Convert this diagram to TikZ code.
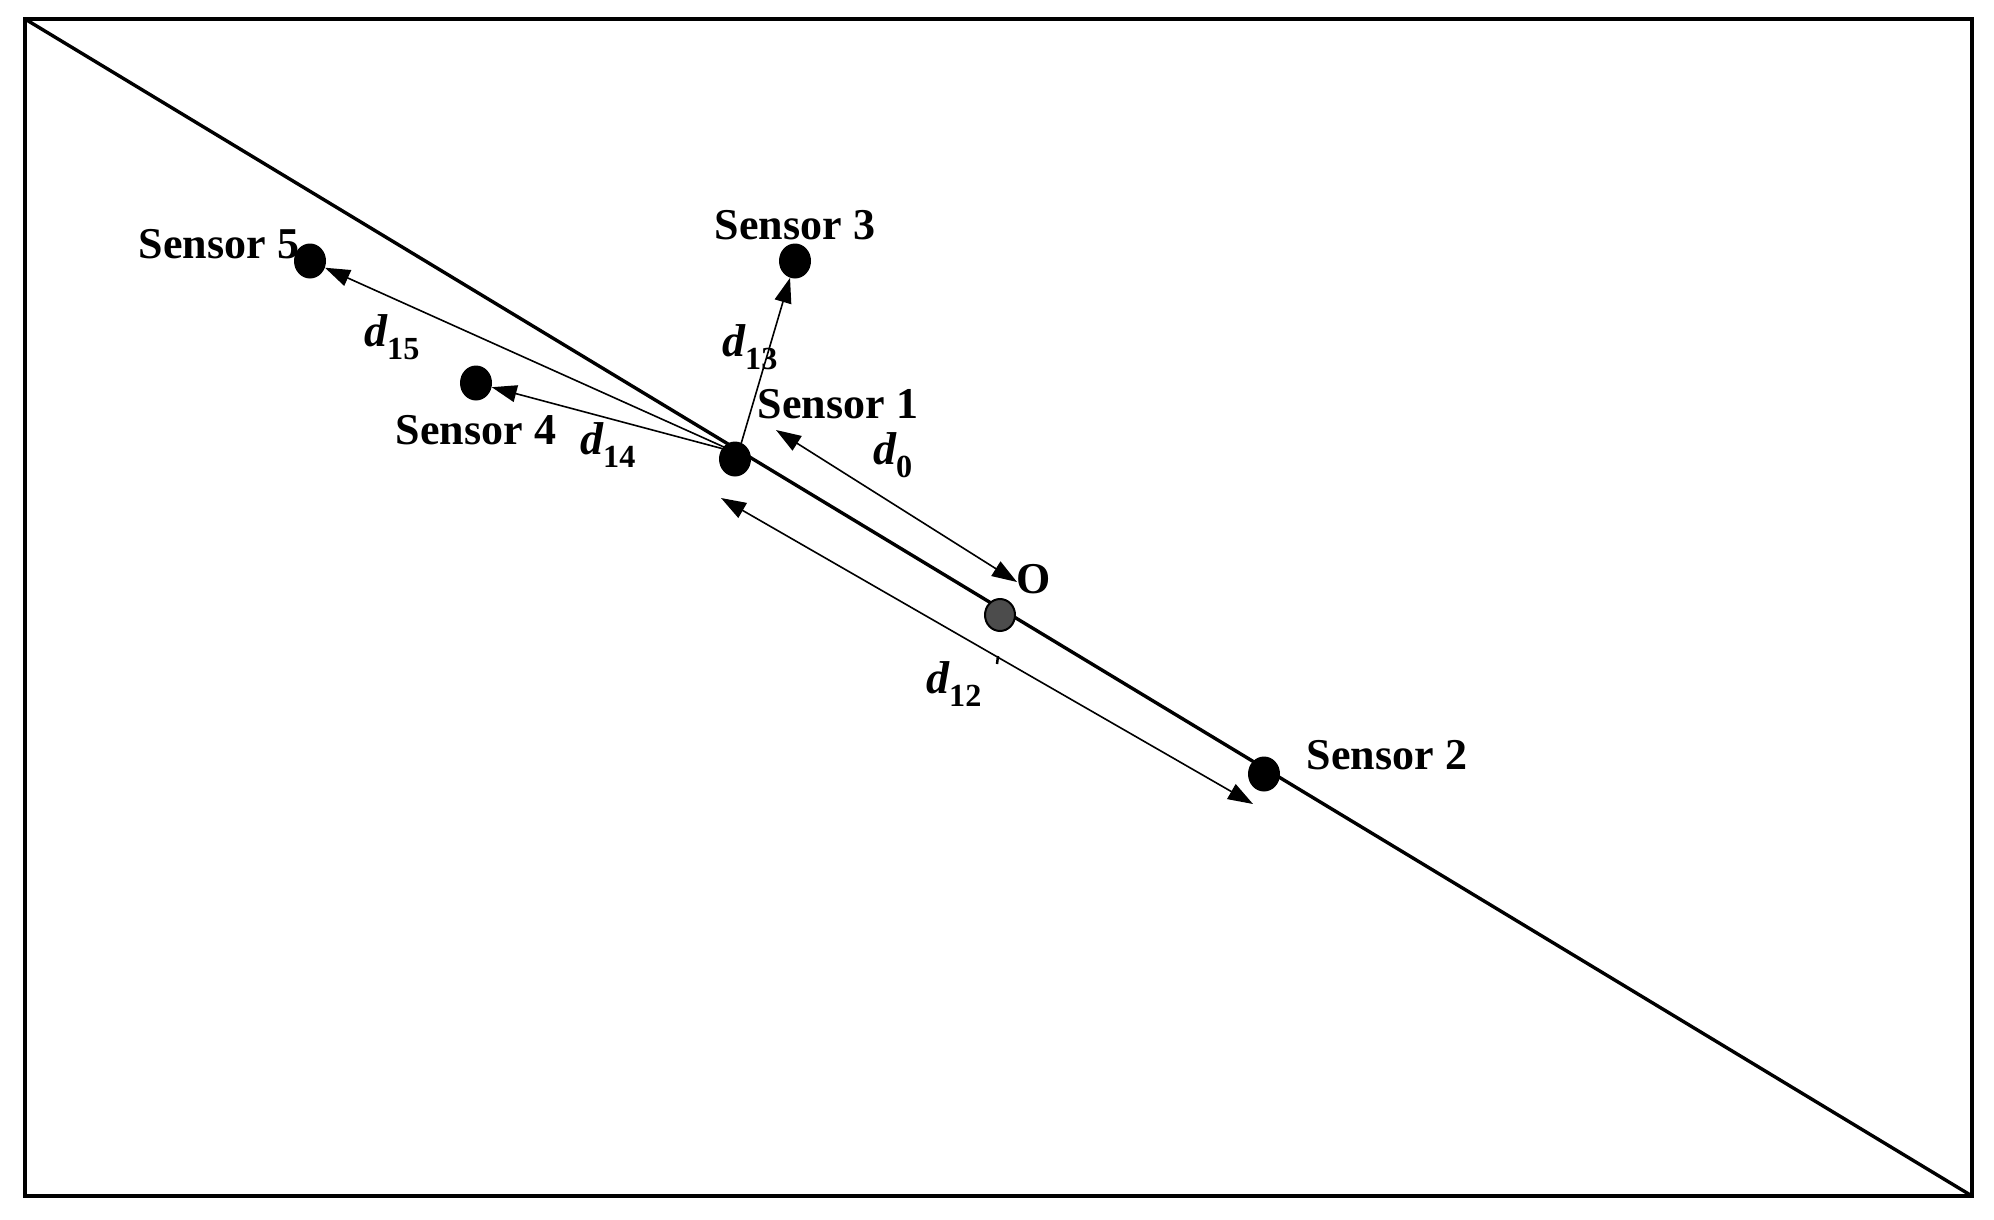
\documentclass[tikz,border=0pt]{standalone}
\usepackage{fontspec}
\setmainfont{Liberation Serif}
\usetikzlibrary{arrows.meta,shapes.geometric}
\begin{document}
\begin{tikzpicture}[x=1pt,y=-1pt,
 dot/.style={ellipse,fill=black,minimum width=32pt,minimum height=35pt,inner sep=0pt},
 odot/.style={ellipse,fill=black!70,draw=black,line width=2pt,minimum width=30pt,minimum height=32pt,inner sep=0pt},
 lbl/.style={font=\fontsize{44}{48}\selectfont\bfseries,inner sep=0pt},
 dlbl/.style={font=\fontsize{46}{50}\selectfont\bfseries,inner sep=0pt},
 arr/.style={line width=1.6pt,-{Triangle[length=25pt,width=17pt]}},
 darr/.style={line width=1.6pt,{Triangle[length=25pt,width=17pt]}-{Triangle[length=25pt,width=17pt]}},
 thick line/.style={line width=3.4pt}]
\useasboundingbox (0,0) rectangle (1994,1220);
\draw[thick line] (25,19) rectangle (1972,1196);
\coordinate (tl) at (25,19);
\coordinate (br) at (1972,1196);
\draw[thick line] (tl) -- (br);
% dots
\node[dot] (s1) at (735,459) {};
\node[odot] (o) at (1000,615) {};
\node[dot] (s2) at (1264,774) {};
\node[dot] (s3) at (795,261) {};
\node[dot] (s4) at (476,383) {};
\node[dot] (s5) at (310,261) {};
% labels
\node[lbl] (l5) at (219,244) {Sensor 5};
\node[lbl] (l3) at (795,225) {Sensor 3};
\node[lbl] (l1) at (838,404) {Sensor 1};
\node[lbl] (l4) at (476,430) {Sensor 4};
\node[lbl] (l2) at (1387,755) {Sensor 2};
\node[lbl] (lo) at (1034,579) {O};
% arrows from sensor 1
\coordinate (a1) at (735,452);
\draw[arr] (a1) -- (s5);
\draw[arr] (a1) -- (s4);
\coordinate (a3) at (741,444);
\draw[arr] (a3) -- (s3);
\coordinate (d0a) at (776,430);
\coordinate (d0b) at (1017,582);
\draw[darr] (d0a) -- (d0b);
\coordinate (d12a) at (721,498);
\coordinate (d12b) at (1253,804);
\draw[darr] (d12a) -- (d12b);
\coordinate (tka) at (998,656);
\coordinate (tkb) at (997,664);
\draw[line width=2.5pt] (tka) -- (tkb);
% distance labels
\node[dlbl] (t15) at (392,337) {\itshape d\textsubscript{\upshape 15}};
\node[dlbl] (t13) at (750,347) {\itshape d\textsubscript{\upshape 13}};
\node[dlbl] (t14) at (608,445) {\itshape d\textsubscript{\upshape 14}};
\node[dlbl] (t0) at (893,455) {\itshape d\textsubscript{\upshape 0}};
\node[dlbl] (t12) at (954,684) {\itshape d\textsubscript{\upshape 12}};
\end{tikzpicture}
\end{document}
